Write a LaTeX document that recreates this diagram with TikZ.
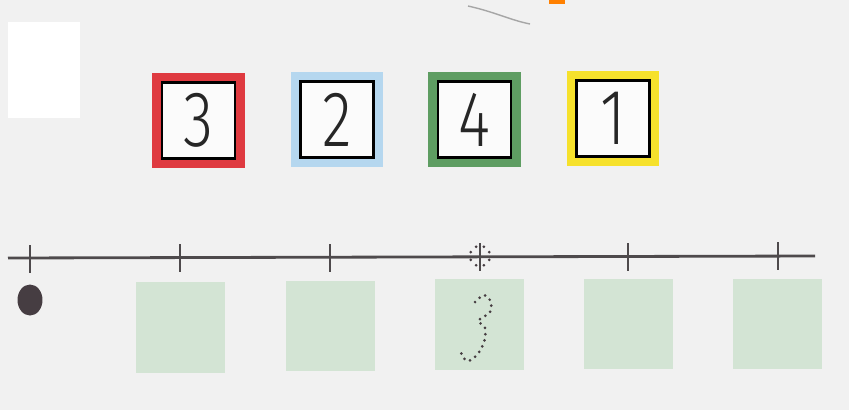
\documentclass[tikz,border=0pt]{standalone}
\usepackage{fontspec}
\usepackage{xcolor}
\usepackage{tikz}
\usetikzlibrary{shapes.geometric, positioning}
\newfontfamily\digitfont{Fira Sans Light}
\definecolor{bgpaper}{HTML}{F1F1F1}
\definecolor{cardred}{HTML}{DF3A40}
\definecolor{cardblue}{HTML}{B5D7EF}
\definecolor{cardgreen}{HTML}{5E9D62}
\definecolor{cardyellow}{HTML}{F6E12C}
\definecolor{squaregreen}{HTML}{D3E4D4}
\definecolor{lineink}{HTML}{4E4A4C}
\definecolor{dotink}{HTML}{463D42}

\tikzset{
    outercard/.style={rectangle, minimum width=1.86cm, minimum height=1.9cm, inner sep=0pt},
    innercard/.style={rectangle, draw=black, line width=1.2pt, fill=white!97!gray, minimum width=1.46cm, minimum height=1.52cm, inner sep=0pt, text=black!85, font=\digitfont\fontsize{35}{35}\selectfont},
    answerbox/.style={rectangle, fill=squaregreen, minimum width=1.78cm, minimum height=1.82cm, inner sep=0pt},
    numline/.style={lineink, line width=1.6pt},
    tickmark/.style={lineink, line width=1.1pt},
    traced/.style={dotink, line width=1.7pt, line cap=round, dash pattern=on 0pt off 3.6pt}
}

\begin{document}
\begin{tikzpicture}[x=0.02cm, y=-0.02cm]
    \useasboundingbox (0,0) rectangle (849,410);
    \fill[bgpaper] (0,0) rectangle (849,410);
    \fill[white] (8,22) rectangle (80,118);
    
    % marks at the top edge
    \fill[orange] (549,0) rectangle (565,4);
    \draw[gray!70, line width=0.8pt] (468,6) .. controls (495,12) and (510,20) .. (530,24);
    
    % the four cards
    \node[outercard, fill=cardred] (card3) at (198.5,120.5) {};
    \node[innercard] (num3) at (card3) {\scalebox{1}[1.28]{3}};
    \node[outercard, fill=cardblue] (card2) at (337,119.5) {};
    \node[innercard] (num2) at (card2) {\scalebox{1}[1.28]{2}};
    \node[outercard, fill=cardgreen] (card4) at (474.5,119.5) {};
    \node[innercard] (num4) at (card4) {\scalebox{1}[1.28]{4}};
    \node[outercard, fill=cardyellow] (card1) at (613,118.5) {};
    \node[innercard] (num1) at (card1) {\scalebox{1}[1.28]{1}};
    
    % number line
    \coordinate (linestart) at (8,258);
    \coordinate (lineend) at (815,256);
    \draw[numline] (linestart) -- (lineend);
    \foreach \x/\y in {30/259, 180/258, 330/258, 480/257, 628/257, 778/256}
        \draw[tickmark] (\x,\y-14) -- (\x,\y+14);
    \coordinate (marked) at (480,256);
    \foreach \a in {22.5,67.5,...,337.5}
        \fill[dotink] (marked) ++(\a:0.2cm) circle (0.85pt);
    
    \node[ellipse, fill=dotink, minimum width=0.5cm, minimum height=0.62cm, inner sep=0pt] (start) at (30,300) {};
    
    % answer squares
    \node[answerbox] (box1) at (180.5,327.5) {};
    \node[answerbox] (box2) at (330.5,326) {};
    \node[answerbox] (box3) at (479.5,324.5) {};
    \node[answerbox] (box4) at (628.5,324) {};
    \node[answerbox] (box5) at (777.5,324) {};
    
    \draw[traced] plot[smooth] coordinates {(475,302) (484,295) (491,302) (490,312) (482,318) (478,321) (485,328) (485,338) (482,347) (476,356) (468,361) (462,356) (461,349)};
\end{tikzpicture}
\end{document}
